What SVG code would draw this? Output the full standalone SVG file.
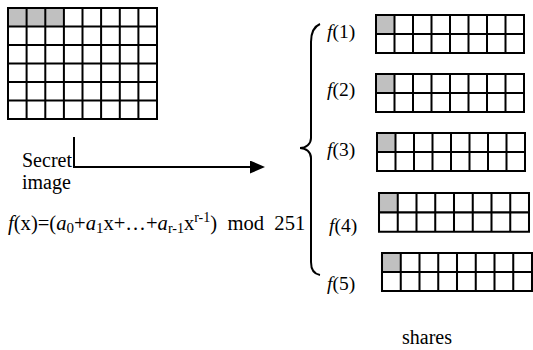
<svg xmlns="http://www.w3.org/2000/svg" xmlns:xlink="http://www.w3.org/1999/xlink" width="533" height="350" viewBox="0 0 533 350" font-family="'Liberation Serif', 'DejaVu Serif', serif">
<style>
text{font-family:'Liberation Serif','DejaVu Serif',serif;fill:#000;white-space:pre}
.t{font-size:20px}
.f{font-size:20.6px}
.lbl{font-size:19.5px}
.i{font-style:italic}
.grid{fill:none;stroke:#000;stroke-width:2}
.g{fill:#c0c0c0}
.bg{fill:#fff}
.conn{fill:none;stroke:#000;stroke-width:2}
</style>
<defs>
<g id="shareGrid">
<rect class="bg" x="0" y="0" width="148" height="38"/>
<rect class="g" x="0" y="0" width="18.5" height="19"/>
<path class="grid" d="M0 0H148V38H0Z M0 19H148 M18.5 0V38 M37 0V38 M55.5 0V38 M74 0V38 M92.5 0V38 M111 0V38 M129.5 0V38"/>
</g>
<marker id="arr" markerWidth="15" markerHeight="13" refX="1" refY="6.5" orient="auto" markerUnits="userSpaceOnUse" viewBox="0 0 15 13">
<path d="M0 0L15 6.5L0 13Z" fill="#000"/>
</marker>
</defs>

<g id="secret-image">
<rect class="bg" x="8" y="8" width="149" height="111"/>
<rect class="g" x="8" y="8" width="55.9" height="18.5"/>
<path class="grid" d="M8 8H157V119H8Z M8 26.5H157 M8 45H157 M8 63.5H157 M8 82H157 M8 100.5H157 M26.6 8V119 M45.3 8V119 M63.9 8V119 M82.5 8V119 M101.1 8V119 M119.8 8V119 M138.4 8V119"/>
<text class="t" x="22" y="167">Secret</text>
<text class="t" x="22" y="189">image</text>
</g>

<g id="formula">
<text class="f" x="8" y="230" xml:space="preserve"><tspan class="i">f</tspan>(x)=(<tspan class="i">a</tspan><tspan font-size="15" dy="3">0</tspan><tspan dy="-3">+</tspan><tspan class="i">a</tspan><tspan font-size="15" dy="3">1</tspan><tspan dy="-3">x+…+</tspan><tspan class="i">a</tspan><tspan font-size="14" dy="3">r-1</tspan><tspan dy="-3">x</tspan><tspan font-size="14" dy="-8">r-1</tspan><tspan dy="8">)  mod  251</tspan></text>
</g>

<g id="connectors">
<path class="conn" d="M74 137V167H251" marker-end="url(#arr)"/>
<path class="conn" d="M320 24C313 27 311 33 311 42V138C311 144 306 148 300 148C306 148 311 152 311 158V262C311 270 314 274 320 275"/>
</g>

<g id="share1">
<use xlink:href="#shareGrid" href="#shareGrid" x="376" y="15"/>
<text class="lbl" x="327" y="38"><tspan class="i">f</tspan>(1)</text>
</g>
<g id="share2">
<use xlink:href="#shareGrid" href="#shareGrid" x="376" y="74"/>
<text class="lbl" x="327" y="96"><tspan class="i">f</tspan>(2)</text>
</g>
<g id="share3">
<use xlink:href="#shareGrid" href="#shareGrid" x="377" y="133"/>
<text class="lbl" x="327" y="156"><tspan class="i">f</tspan>(3)</text>
</g>
<g id="share4">
<use xlink:href="#shareGrid" href="#shareGrid" transform="translate(379 193) scale(1.0135 1.02)"/>
<text class="lbl" x="329" y="232"><tspan class="i">f</tspan>(4)</text>
</g>
<g id="share5">
<use xlink:href="#shareGrid" href="#shareGrid" transform="translate(382 253) scale(1.0135 1)"/>
<text class="lbl" x="327" y="290" font-size="16"><tspan class="i">f</tspan>(5)</text>
</g>

<text class="t" x="402" y="344">shares</text>
</svg>
